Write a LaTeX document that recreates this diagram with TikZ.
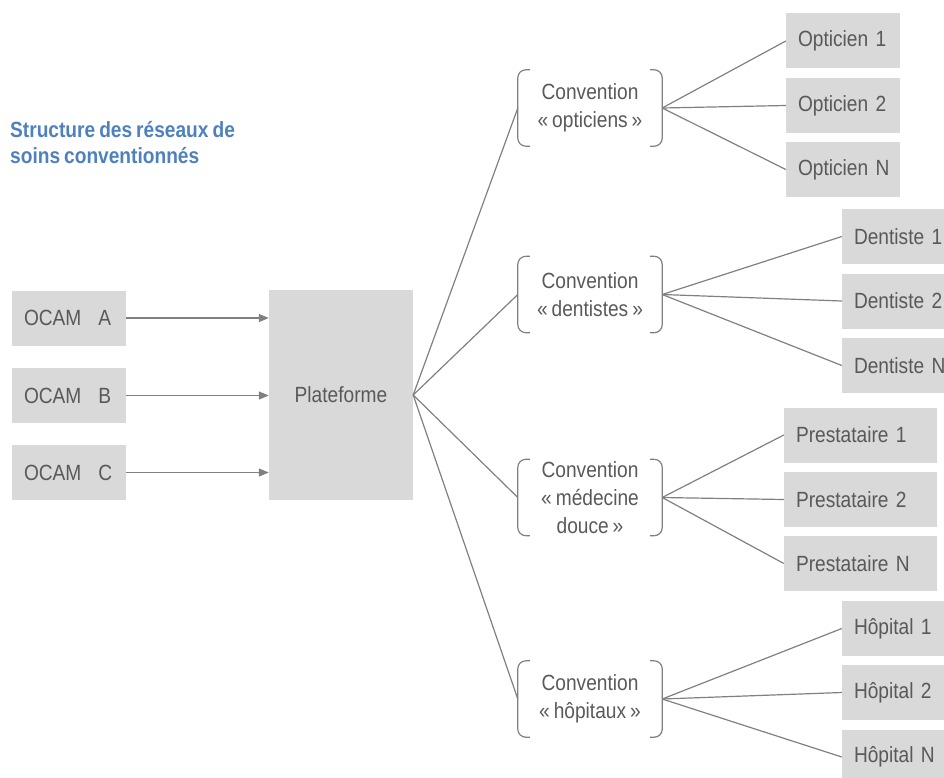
\documentclass[tikz,border=0pt]{standalone}
\usepackage{fontspec}
\setmainfont{Liberation Sans}[FakeStretch=0.87, WordSpace=0.75]
\usetikzlibrary{arrows.meta}
\definecolor{boxgray}{RGB}{217,217,217}
\definecolor{textgray}{RGB}{89,89,89}
\definecolor{linegray}{RGB}{128,128,128}
\definecolor{titleblue}{RGB}{79,129,189}
\tikzset{
  box/.style={fill=boxgray, text=textgray, minimum height=55pt, inner xsep=12pt, inner ysep=0pt, align=left},
  conv/.style={text=textgray, minimum width=144pt, minimum height=76pt, inner sep=0pt, align=center},
  link/.style={draw=linegray, line width=1.2pt},
  arr/.style={link, -{Triangle[length=10pt,width=8pt]}},
  bracket/.style={draw=linegray, line width=1.2pt, rounded corners=8pt}
}
\begin{document}
\begin{tikzpicture}[x=1pt, y=-1pt, font=\fontsize{22}{28}\selectfont]
\useasboundingbox (0,0) rectangle (944,778);
\node[anchor=north west, inner sep=0pt, align=left, text=titleblue, font=\fontsize{22}{26}\selectfont\bfseries] (T) at (10,121) {Structure des réseaux de\\soins conventionnés};
% OCAM
\node[box, text width=90pt] (OA) at (69,318) {\mbox{OCAM\hspace{17pt}A}};
\node[box, text width=90pt] (OB) at (69,395.5) {\mbox{OCAM\hspace{17pt}B}};
\node[box, text width=90pt] (OC) at (69,472.5) {\mbox{OCAM\hspace{17pt}C}};
\node[box, minimum width=144pt, minimum height=210pt, align=center, inner sep=0pt] (P) at (341,395) {Plateforme};
\draw[arr] (OA.east) -- (OA.east -| P.west);
\draw[arr] (OB.east) -- (OB.east -| P.west);
\draw[arr] (OC.east) -- (OC.east -| P.west);
% conventions
\node[conv] (CO) at (590,108) {Convention\\« opticiens »};
\node[conv] (CD) at (590,294.5) {Convention\\« dentistes »};
\node[conv] (CM) at (590,497.5) {Convention\\« médecine\\douce »};
\node[conv] (CH) at (590,699) {Convention\\« hôpitaux »};
\foreach \c in {CO,CD,CM,CH} {
  \draw[bracket] ([xshift=12pt]\c.north west) -- (\c.north west) -- (\c.south west) -- ([xshift=12pt]\c.south west);
  \draw[bracket] ([xshift=-12pt]\c.north east) -- (\c.north east) -- (\c.south east) -- ([xshift=-12pt]\c.south east);
}
\draw[link] (P.east) -- (CO.west);
\draw[link] (P.east) -- (CD.west);
\draw[link] (P.east) -- (CM.west);
\draw[link] (P.east) -- (CH.west);
% opticiens
\node[box, text width=90pt] (O1) at (843,41) {\mbox{Opticien 1}};
\node[box, text width=90pt] (O2) at (843,105.5) {\mbox{Opticien 2}};
\node[box, text width=90pt] (ON) at (843,169.5) {\mbox{Opticien N}};
% dentistes
\node[box, text width=90pt] (D1) at (899,236.5) {\mbox{Dentiste 1}};
\node[box, text width=90pt] (D2) at (899,301) {\mbox{Dentiste 2}};
\node[box, text width=90pt] (DN) at (899,365.5) {\mbox{Dentiste N}};
% prestataires
\node[box, text width=129pt] (M1) at (860.5,435) {\mbox{Prestataire 1}};
\node[box, text width=129pt] (M2) at (860.5,499.5) {\mbox{Prestataire 2}};
\node[box, text width=129pt] (MN) at (860.5,563.5) {\mbox{Prestataire N}};
% hopitaux
\node[box, text width=90pt] (H1) at (899,628.5) {\mbox{Hôpital 1}};
\node[box, text width=90pt] (H2) at (899,692.5) {\mbox{Hôpital 2}};
\node[box, text width=90pt] (HN) at (899,757) {\mbox{Hôpital N}};
\draw[link] (CO.east) -- (O1.west);
\draw[link] (CO.east) -- (O2.west);
\draw[link] (CO.east) -- (ON.west);
\draw[link] (CD.east) -- (D1.west);
\draw[link] (CD.east) -- (D2.west);
\draw[link] (CD.east) -- (DN.west);
\draw[link] (CM.east) -- (M1.west);
\draw[link] (CM.east) -- (M2.west);
\draw[link] (CM.east) -- (MN.west);
\draw[link] (CH.east) -- (H1.west);
\draw[link] (CH.east) -- (H2.west);
\draw[link] (CH.east) -- (HN.west);
\end{tikzpicture}
\end{document}
